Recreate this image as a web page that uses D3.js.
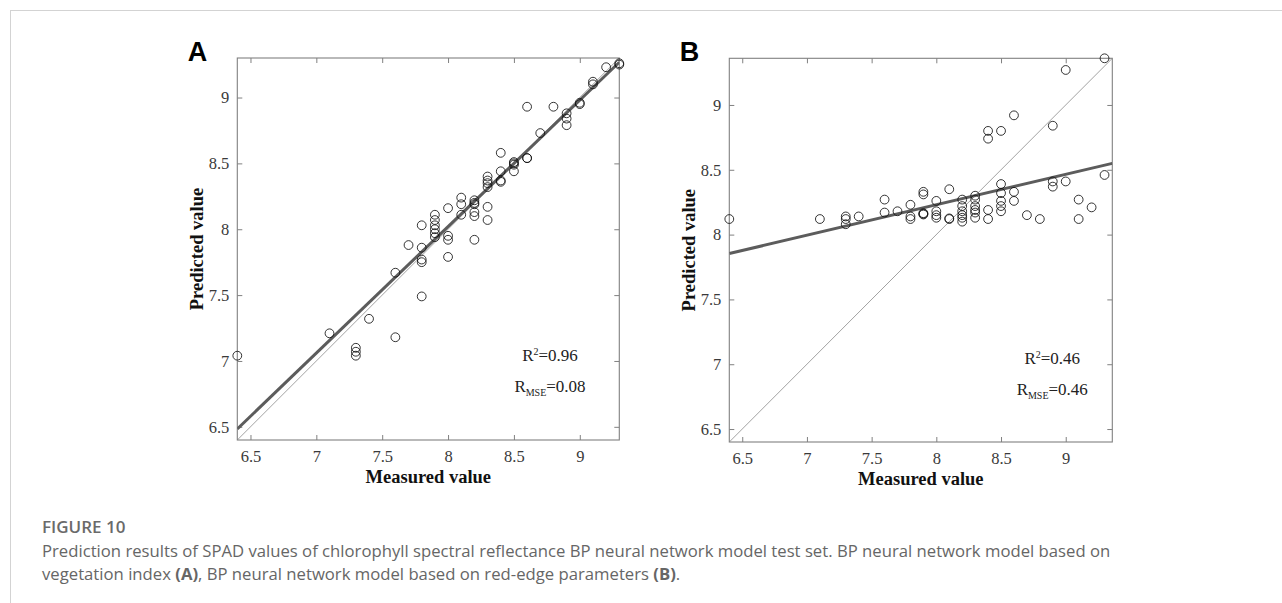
<!DOCTYPE html>
<html>
<head>
<meta charset="utf-8">
<script src="https://cdn.jsdelivr.net/npm/d3@7"></script>
<style>
  html, body { margin: 0; padding: 0; background: #fff; }
  svg { display: block; }
</style>
</head>
<body>
<svg id="chart" width="1282" height="603"></svg>
<script>
// ---------------- data ----------------
const measuredA = [9.3, 9.3, 9.2, 9.1, 9.1, 9.0, 9.0, 8.9, 8.9, 8.9, 8.8, 8.6, 8.7, 8.6, 8.6,
  8.5, 8.5, 8.5, 8.5, 8.4, 8.4, 8.4, 8.4, 8.3, 8.3, 8.3, 8.3, 8.3, 8.3,
  8.2, 8.2, 8.2, 8.2, 8.2, 8.2, 8.1, 8.1, 8.1, 8.0, 8.0, 8.0, 8.0,
  7.9, 7.9, 7.9, 7.9, 7.9, 7.9, 7.8, 7.8, 7.8, 7.8, 7.8, 7.7, 7.6, 7.6,
  7.4, 7.1, 7.3, 7.3, 7.3, 6.4];
const predictedA = [9.26, 9.25, 9.23, 9.12, 9.10, 8.95, 8.96, 8.88, 8.84, 8.79, 8.93, 8.93, 8.73, 8.54, 8.54,
  8.51, 8.49, 8.44, 8.50, 8.58, 8.44, 8.37, 8.36, 8.40, 8.37, 8.35, 8.32, 8.17, 8.07,
  8.22, 8.20, 8.19, 8.13, 8.10, 7.92, 8.24, 8.19, 8.11, 8.16, 7.95, 7.92, 7.79,
  8.11, 8.07, 8.03, 8.00, 7.97, 7.94, 8.03, 7.86, 7.77, 7.75, 7.49, 7.88, 7.67, 7.18,
  7.32, 7.21, 7.10, 7.07, 7.04, 7.04];

const measuredB = [6.4, 7.1, 7.3, 7.3, 7.3, 7.4, 7.6, 7.6, 7.7, 7.8, 7.8, 7.8,
  7.9, 7.9, 7.9, 7.9, 7.9, 8.0, 8.0, 8.0, 8.0, 8.1, 8.1, 8.1,
  8.2, 8.2, 8.2, 8.2, 8.2, 8.2, 8.3, 8.3, 8.3, 8.3, 8.3, 8.3,
  8.4, 8.4, 8.4, 8.4, 8.5, 8.5, 8.5, 8.5, 8.5, 8.5, 8.6, 8.6, 8.6,
  8.7, 8.8, 8.9, 8.9, 8.9, 9.0, 9.0, 9.1, 9.1, 9.2, 9.3, 9.3];
const predictedB = [8.12, 8.12, 8.14, 8.12, 8.08, 8.14, 8.27, 8.17, 8.18, 8.23, 8.14, 8.12,
  8.33, 8.31, 8.16, 8.165, 8.155, 8.26, 8.18, 8.15, 8.13, 8.35, 8.12, 8.125,
  8.27, 8.22, 8.18, 8.15, 8.13, 8.10, 8.30, 8.27, 8.22, 8.19, 8.17, 8.13,
  8.80, 8.74, 8.19, 8.12, 8.80, 8.39, 8.32, 8.26, 8.22, 8.18, 8.92, 8.33, 8.26,
  8.15, 8.12, 8.84, 8.41, 8.37, 9.27, 8.41, 8.27, 8.12, 8.21, 9.36, 8.46];

const fitA = [0.96, 0.34];     // slope, intercept of fitted line
const fitB = [0.235, 6.35];
const domainA = [6.4, 9.3];
const domainB = [6.4, 9.36];
const tickValues = [6.5, 7, 7.5, 8, 8.5, 9];
const tickLabels = ["6.5", "7", "7.5", "8", "8.5", "9"];
const panelLabels = ["A", "B"];
const r2Texts = ["0.96", "0.46"];
const rmseTexts = ["0.08", "0.46"];
const xTitle = "Measured value";
const yTitle = "Predicted value";
const captionTitle = "FIGURE 10";
const captionLine1 = "Prediction results of SPAD values of chlorophyll spectral reflectance BP neural network model test set. BP neural network model based on";

// ---------------- drawing ----------------
const svg = d3.select("#chart");

// page frame
svg.append("line").attr("x1", 10).attr("x2", 1282).attr("y1", 10.5).attr("y2", 10.5)
  .attr("stroke", "#d3d3d3").attr("stroke-width", 1);
svg.append("line").attr("x1", 10.5).attr("x2", 10.5).attr("y1", 10).attr("y2", 603)
  .attr("stroke", "#d3d3d3").attr("stroke-width", 1);

const panels = [
  { key: 0, mx: measuredA, py: predictedA, fit: fitA, dom: domainA, box: [237.3, 619.3, 58, 440], statX: 8.774, r2Y: 7.0, rmseY: 6.765 },
  { key: 1, mx: measuredB, py: predictedB, fit: fitB, dom: domainB, box: [729.3, 1112.3, 58.3, 442], statX: 8.896, r2Y: 7.0, rmseY: 6.765 }
];

const axisColor = "#808080";
const serif = "'Liberation Serif', 'Times New Roman', serif";

panels.forEach((p, i) => {
  const [bx0, bx1, by0, by1] = p.box;
  const x = d3.scaleLinear().domain(p.dom).range([bx0, bx1]);
  const y = d3.scaleLinear().domain(p.dom).range([by1, by0]);
  const g = svg.append("g");

  const clipId = "clip" + i;
  svg.append("clipPath").attr("id", clipId).append("rect")
    .attr("x", bx0).attr("y", by0).attr("width", bx1 - bx0).attr("height", by1 - by0);

  // axes
  const fmt = d => tickLabels[tickValues.indexOf(d)];
  const styleAxis = sel => {
    sel.attr("font-family", serif).attr("font-size", 16.5);
    sel.select(".domain").remove();
    sel.selectAll(".tick line").attr("stroke", axisColor).attr("stroke-width", 1);
    sel.selectAll(".tick text").attr("fill", "#3a3a3a")
      .style("font-family", serif).style("font-size", "16.5px");
  };
  g.append("g").attr("transform", `translate(0,${by1})`)
    .call(d3.axisBottom(x).tickValues(tickValues).tickFormat(fmt).tickSizeInner(-5).tickSizeOuter(0).tickPadding(10))
    .call(styleAxis);
  g.append("g").attr("transform", `translate(0,${by0})`)
    .call(d3.axisTop(x).tickValues(tickValues).tickFormat("").tickSizeInner(-5).tickSizeOuter(0))
    .call(styleAxis);
  g.append("g").attr("transform", `translate(${bx0},0)`)
    .call(d3.axisLeft(y).tickValues(tickValues).tickFormat(fmt).tickSizeInner(-5).tickSizeOuter(0).tickPadding(8))
    .call(styleAxis);
  g.append("g").attr("transform", `translate(${bx1},0)`)
    .call(d3.axisRight(y).tickValues(tickValues).tickFormat("").tickSizeInner(-5).tickSizeOuter(0))
    .call(styleAxis);

  // box
  g.append("rect").attr("x", bx0).attr("y", by0).attr("width", bx1 - bx0).attr("height", by1 - by0)
    .attr("fill", "none").attr("stroke", axisColor).attr("stroke-width", 1.1);

  const lines = g.append("g").attr("clip-path", `url(#${clipId})`);
  // 1:1 line
  lines.append("line")
    .attr("x1", x(p.dom[0])).attr("y1", y(p.dom[0]))
    .attr("x2", x(p.dom[1])).attr("y2", y(p.dom[1]))
    .attr("stroke", "#8a8a8a").attr("stroke-width", 0.8);
  // fitted line
  lines.append("line")
    .attr("x1", x(p.dom[0])).attr("y1", y(p.fit[0] * p.dom[0] + p.fit[1]))
    .attr("x2", x(p.dom[1])).attr("y2", y(p.fit[0] * p.dom[1] + p.fit[1]))
    .attr("stroke", "#5c5c5c").attr("stroke-width", 3);

  // points
  g.append("g").selectAll("circle").data(p.mx.map((m, j) => [m, p.py[j]]))
    .join("circle")
    .attr("cx", d => x(d[0])).attr("cy", d => y(d[1])).attr("r", 4.4)
    .attr("fill", "none").attr("stroke", "#111").attr("stroke-width", 0.85);

  // stats text
  const t1 = g.append("text").attr("x", x(p.statX)).attr("y", y(p.r2Y)).attr("text-anchor", "middle")
    .style("font-family", serif).style("font-size", "17px").attr("fill", "#222");
  t1.append("tspan").text("R");
  t1.append("tspan").text("2").attr("dy", -6).style("font-size", "10px");
  t1.append("tspan").text("=" + r2Texts[i]).attr("dy", 6);
  const t2 = g.append("text").attr("x", x(p.statX)).attr("y", y(p.rmseY)).attr("text-anchor", "middle")
    .style("font-family", serif).style("font-size", "17px").attr("fill", "#222");
  t2.append("tspan").text("R");
  t2.append("tspan").text("MSE").attr("dy", 4).style("font-size", "10px");
  t2.append("tspan").text("=" + rmseTexts[i]).attr("dy", -4);

  // axis titles
  g.append("text").attr("x", (bx0 + bx1) / 2).attr("y", by1 + 43).attr("text-anchor", "middle")
    .style("font-family", serif).style("font-size", "18.5px").style("font-weight", "bold").attr("fill", "#111")
    .text(xTitle);
  g.append("text").attr("transform", `translate(${bx0 - 34},${(by0 + by1) / 2}) rotate(-90)`)
    .attr("text-anchor", "middle")
    .style("font-family", serif).style("font-size", "18.5px").style("font-weight", "bold").attr("fill", "#111")
    .text(yTitle);

  // panel letter
  g.append("text").attr("x", bx0 - 49.5).attr("y", by0 + 2.7)
    .style("font-family", "'Liberation Sans', Arial, sans-serif").style("font-size", "27px").style("font-weight", "bold")
    .attr("fill", "#000").text(panelLabels[i]);
});

// ---------------- caption ----------------
const capFont = "'Open Sans', 'Noto Sans', sans-serif";
svg.append("text").attr("x", 42).attr("y", 533)
  .style("font-family", capFont).style("font-size", "17px").style("font-weight", "600")
  .attr("fill", "#6a6a6a").text(captionTitle);

const l1 = svg.append("text").attr("x", 42).attr("y", 556.5)
  .style("font-family", capFont).style("font-size", "15px").attr("fill", "#666").text(captionLine1);
const len = l1.node().getComputedTextLength();
const capSize = 15 * 1069 / len;
l1.style("font-size", capSize + "px");

const l2 = svg.append("text").attr("x", 42).attr("y", 580)
  .style("font-family", capFont).style("font-size", capSize + "px").attr("fill", "#666");
l2.append("tspan").text("vegetation index ");
l2.append("tspan").text("(A)").style("font-weight", "bold");
l2.append("tspan").text(", BP neural network model based on red-edge parameters ");
l2.append("tspan").text("(B)").style("font-weight", "bold");
l2.append("tspan").text(".");
</script>
</body>
</html>
